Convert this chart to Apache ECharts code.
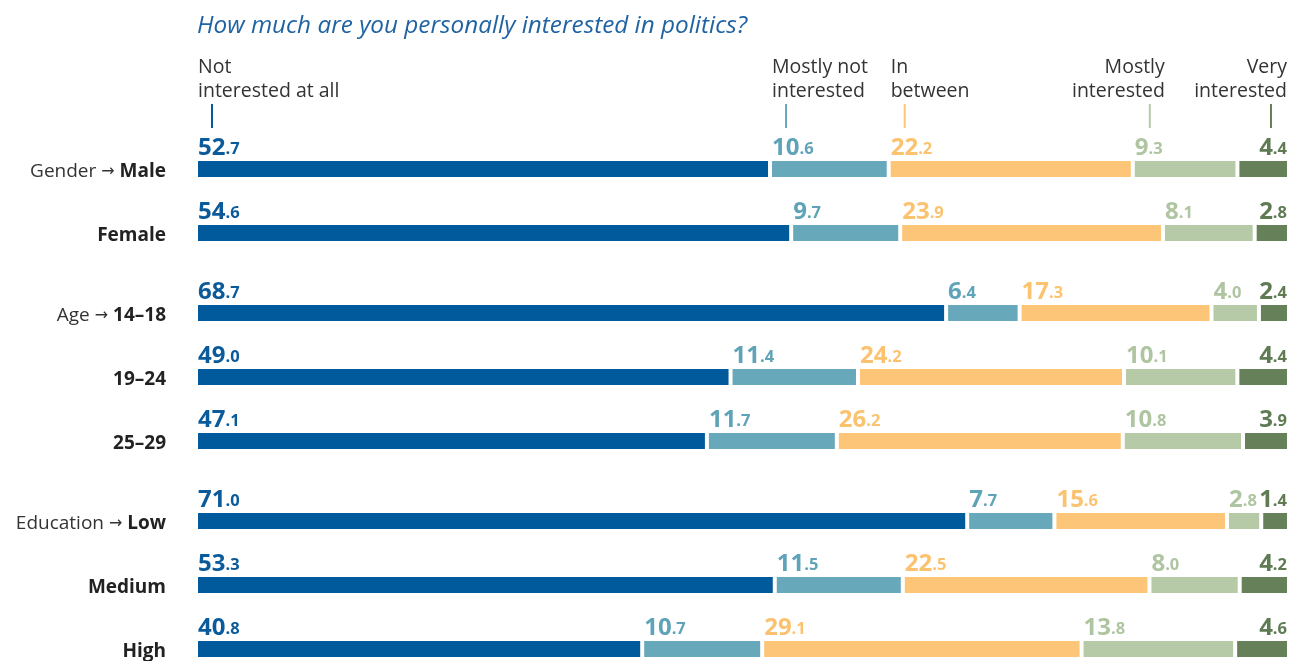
<!DOCTYPE html>
<html><head><meta charset="utf-8">
<script src="https://cdn.jsdelivr.net/npm/echarts@6/dist/echarts.min.js"></script>
<style>html,body{margin:0;padding:0;background:#fff}#c{width:1290px;height:661px}</style>
</head><body><div id="c"></div>
<script>
const titleText = 'How much are you personally interested in politics?';
const categories = ['Male', 'Female', '14–18', '19–24', '25–29', 'Low', 'Medium', 'High'];
const groupLabels = ['Gender', '', 'Age', '', '', 'Education', '', ''];
const groupSizes = [2, 3, 3];
const answers = ['Not\ninterested at all', 'Mostly not\ninterested', 'In\nbetween', 'Mostly\ninterested', 'Very\ninterested'];
const notAtAll   = [52.7, 54.6, 68.7, 49.0, 47.1, 71.0, 53.3, 40.8];
const mostlyNot  = [10.6, 9.7, 6.4, 11.4, 11.7, 7.7, 11.5, 10.7];
const inBetween  = [22.2, 23.9, 17.3, 24.2, 26.2, 15.6, 22.5, 29.1];
const mostly     = [9.3, 8.1, 4.0, 10.1, 10.8, 2.8, 8.0, 13.8];
const very       = [4.4, 2.8, 2.4, 4.4, 3.9, 1.4, 4.2, 4.6];

const seriesValues = [notAtAll, mostlyNot, inBetween, mostly, very];
const colors = ['#005a9b', '#67a8bb', '#fdc577', '#b6caa8', '#668159'];
const labelColors = ['#0b5b9b', '#5fa3b8', '#fbc370', '#afc5a1', '#5f7b54'];
const FONT = '"Open Sans", "Noto Sans", sans-serif';

const gridTops = [137, 281, 489];
const rowH = 64;
const GAP = 4;          // white gap between segments (px)
const BAR_H = 16;       // bar thickness (px)
const MIN_SHARE = 2.2;  // smallest drawn share so tiny segments stay readable (as in the original)
const NSEG = seriesValues.length;

const chart = echarts.init(document.getElementById('c'), null, {renderer: 'canvas'});

// per-row cumulative shares (0..100) of drawn widths
const rowBounds = categories.map((_, i) => {
  const disp = seriesValues.map(arr => Math.max(arr[i], MIN_SHARE));
  const tot = disp.reduce((a, b) => a + b, 0);
  const b = [0];
  disp.forEach(v => b.push(b[b.length - 1] + v / tot * 100));
  return b;
});

function segPixels(api, row, s, e, k) {
  const L = api.coord([0, row]), R = api.coord([100, row]);
  const usable = R[0] - L[0] - (NSEG - 1) * GAP;
  return {x0: L[0] + s / 100 * usable + k * GAP, x1: L[0] + e / 100 * usable + k * GAP, cy: L[1]};
}

const grids = [], xAxes = [], yAxes = [], series = [];
let start = 0;
groupSizes.forEach((n, g) => {
  grids.push({left: 198, right: 3, top: gridTops[g], height: n * rowH, outerBoundsMode: 'none', containLabel: false});
  xAxes.push({type: 'value', gridIndex: g, min: 0, max: 100, show: false});
  const idx = [];
  for (let k = 0; k < n; k++) idx.push(start + k);
  yAxes.push({
    type: 'category', gridIndex: g, inverse: true,
    data: idx.map(i => categories[i]),
    axisLine: {show: false}, axisTick: {show: false}, splitLine: {show: false},
    axisLabel: {
      margin: 32,
      padding: [6, 0, 0, 0],
      formatter: (v, j) => {
        const gl = groupLabels[idx[j]];
        return (gl ? '{n|' + gl + ' }{a|→}{n| }' : '') + '{b|' + v + '}';
      },
      rich: {
        n: {fontSize: 19, fontFamily: FONT, color: '#333'},
        a: {fontSize: 16, fontFamily: '"DejaVu Sans", sans-serif', color: '#333'},
        b: {fontSize: 19, fontFamily: FONT, fontWeight: 'bold', color: '#222'}
      }
    }
  });
  seriesValues.forEach((arr, k) => {
    const last = k === NSEG - 1;
    series.push({
      type: 'custom', name: answers[k].replace('\n', ' '),
      xAxisIndex: g, yAxisIndex: g,
      silent: true,
      data: idx.map((i, r) => [rowBounds[i][k], rowBounds[i][k + 1], r, arr[i]]),
      renderItem: (params, api) => {
        const p = segPixels(api, api.value(2), api.value(0), api.value(1), k);
        const t = api.value(3).toFixed(1).split('.');
        return {
          type: 'group',
          children: [
            {type: 'rect', shape: {x: p.x0, y: p.cy - BAR_H / 2, width: p.x1 - p.x0, height: BAR_H},
             style: {fill: colors[k]}},
            {type: 'text', x: last ? p.x1 : p.x0, y: p.cy - BAR_H / 2 - 0.5,
             style: {
               text: '{i|' + t[0] + '}{d|.' + t[1] + '}',
               align: last ? 'right' : 'left', verticalAlign: 'bottom',
               rich: {
                 i: {fontSize: 24, fontWeight: 'bold', fontFamily: FONT, fill: labelColors[k], lineHeight: 24, verticalAlign: 'bottom'},
                 d: {fontSize: 16.5, fontWeight: 'bold', fontFamily: FONT, fill: labelColors[k], lineHeight: 24, verticalAlign: 'bottom', padding: [0, 0, 3, 0]}
               }
             }}
          ]
        };
      }
    });
  });
  start += n;
});

chart.setOption({
  animation: false,
  backgroundColor: '#fff',
  title: {
    text: titleText, left: 197, top: 14, padding: 0,
    textStyle: {fontSize: 24.3, fontStyle: 'italic', fontWeight: 'normal', color: '#1f63a3', fontFamily: FONT}
  },
  grid: grids, xAxis: xAxes, yAxis: yAxes, series: series
});

// Legend annotations anchored on the first row's segments
const Lp = chart.convertToPixel({xAxisIndex: 0}, 0), Rp = chart.convertToPixel({xAxisIndex: 0}, 100);
const usable0 = Rp - Lp - (NSEG - 1) * GAP;
const graphics = [];
answers.forEach((a, k) => {
  const x0 = Lp + rowBounds[0][k] / 100 * usable0 + k * GAP;
  const x1 = Lp + rowBounds[0][k + 1] / 100 * usable0 + k * GAP;
  let tickX, textX, align;
  if (k < 3) { tickX = x0 + 14; textX = x0; align = 'left'; }
  else if (k === 3) { tickX = x0 + 15; textX = tickX + 15; align = 'right'; }
  else { tickX = x1 - 16; textX = x1; align = 'right'; }
  graphics.push({
    type: 'text', x: textX, y: 55,
    style: {text: a, fill: '#333', fontSize: 19.5, fontFamily: FONT, align: align, verticalAlign: 'top', lineHeight: 24}
  });
  graphics.push({
    type: 'line', shape: {x1: tickX, y1: 104, x2: tickX, y2: 128},
    style: {stroke: colors[k], lineWidth: 2}
  });
});
chart.setOption({graphic: graphics});
</script>
</body></html>
